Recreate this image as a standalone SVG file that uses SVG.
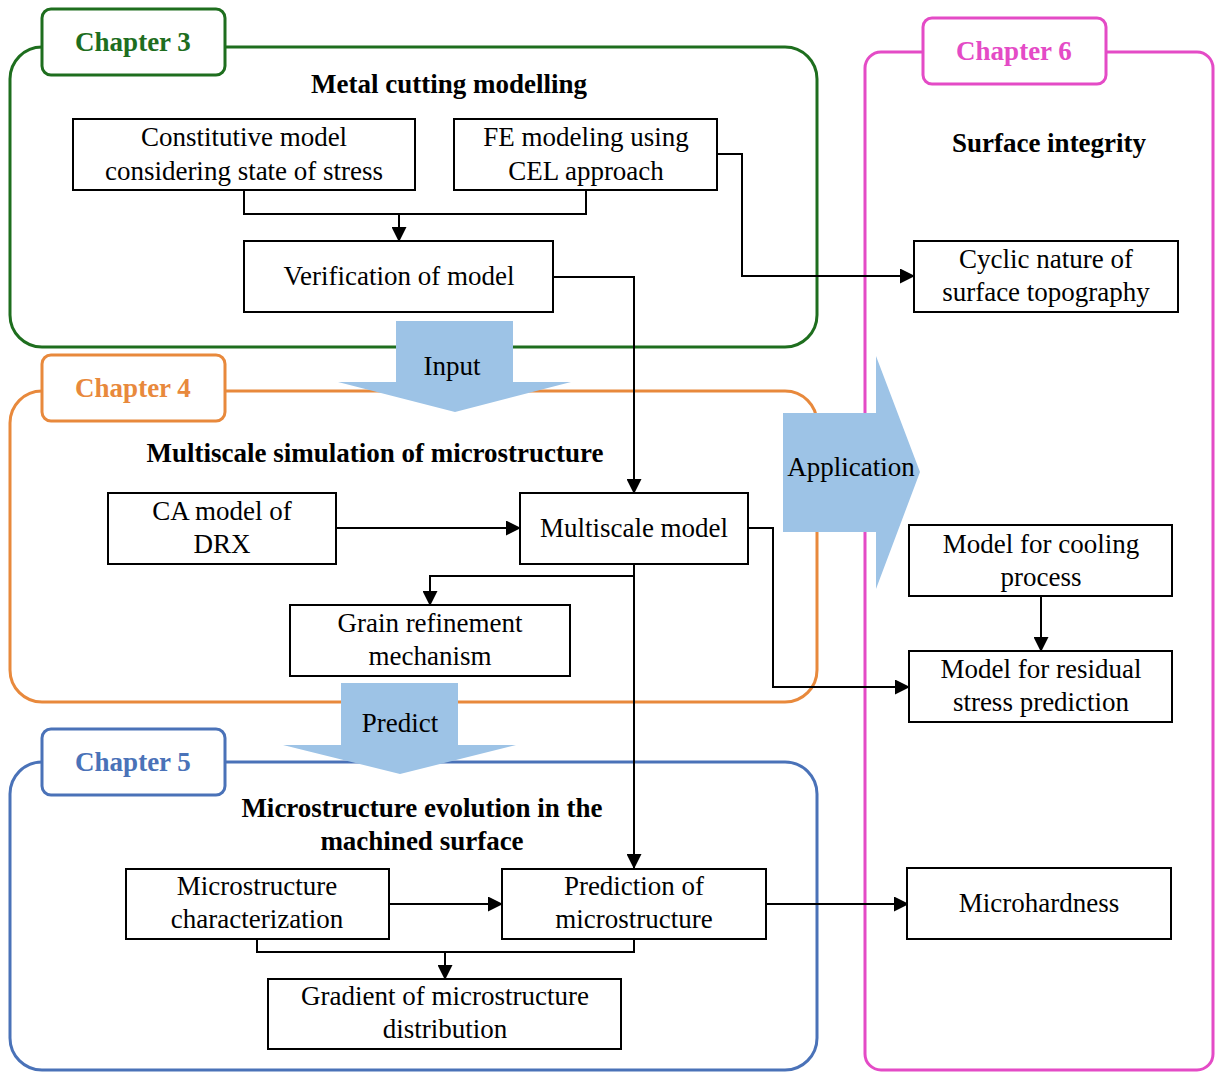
<svg xmlns="http://www.w3.org/2000/svg" width="1215" height="1072" viewBox="0 0 1215 1072">
<style>
text{font-family:"Liberation Serif","Times New Roman",serif;font-size:27px;fill:#000;text-anchor:middle}
.b{font-weight:bold}
.box{fill:#fff;stroke:#000;stroke-width:2}
.cont{fill:none;stroke-width:3}
.lab{fill:#fff;stroke-width:3}
.ln{fill:none;stroke:#000;stroke-width:2}
.big{fill:#9dc3e6}
</style>
<defs>
<marker id="ah" markerWidth="15" markerHeight="15" refX="14" refY="7.5" orient="auto" markerUnits="userSpaceOnUse">
<path d="M0,0 L15,7.5 L0,15 Z" fill="#000"/>
</marker>
</defs>
<rect width="1215" height="1072" fill="#fff"/>

<g id="ch3">
<rect class="cont" x="10" y="47" width="807" height="300" rx="32" stroke="#1e6e1e"/>
<rect class="lab" x="42" y="9" width="183" height="66" rx="9" stroke="#1e6e1e"/>
<text class="b" x="133" y="51" style="fill:#1e6e1e">Chapter 3</text>
<text class="b" x="449" y="93">Metal cutting modelling</text>
</g>
<g id="ch4">
<rect class="cont" x="10" y="391" width="807" height="311" rx="32" stroke="#e8893c"/>
<rect class="lab" x="42" y="355" width="183" height="66" rx="9" stroke="#e8893c"/>
<text class="b" x="133" y="397" style="fill:#e8893c">Chapter 4</text>
<text class="b" x="375" y="462">Multiscale simulation of microstructure</text>
</g>
<g id="ch5">
<rect class="cont" x="10" y="762" width="807" height="308" rx="32" stroke="#4a72b8"/>
<rect class="lab" x="42" y="729" width="183" height="66" rx="9" stroke="#4a72b8"/>
<text class="b" x="133" y="771" style="fill:#4a72b8">Chapter 5</text>
<text class="b" x="422" y="817">Microstructure evolution in the</text>
<text class="b" x="422" y="850">machined surface</text>
</g>
<g id="ch6">
<rect class="cont" x="865" y="52" width="348" height="1018" rx="16" stroke="#e44bc6"/>
<rect class="lab" x="923" y="18" width="183" height="66" rx="9" stroke="#e44bc6"/>
<text class="b" x="1014" y="60" style="fill:#e44bc6">Chapter 6</text>
<text class="b" x="1049" y="152">Surface integrity</text>
</g>

<g id="arrow-input">
<path class="big" d="M396,321 H513 V382 H571 L455,412 L338,382 H396 Z"/>
<text x="452" y="375">Input</text>
</g>
<g id="arrow-predict">
<path class="big" d="M341,683 H458 V745 H516 L400,774 L283,745 H341 Z"/>
<text x="400" y="732">Predict</text>
</g>
<g id="arrow-application">
<path class="big" d="M783,413 H876 V356 L920,472 L876,589 V532 H783 Z"/>
<text x="851" y="476">Application</text>
</g>

<g id="connectors">
<path class="ln" d="M244,190 V214 H586 V190"/>
<path class="ln" d="M399,214 V241" marker-end="url(#ah)"/>
<path class="ln" d="M553,277 H634 V493" marker-end="url(#ah)"/>
<path class="ln" d="M717,154 H742 V276 H914" marker-end="url(#ah)"/>
<path class="ln" d="M336,528 H520" marker-end="url(#ah)"/>
<path class="ln" d="M634,564 V868" marker-end="url(#ah)"/>
<path class="ln" d="M634,576 H430 V605" marker-end="url(#ah)"/>
<path class="ln" d="M748,528 H773 V687 H909" marker-end="url(#ah)"/>
<path class="ln" d="M389,904 H502" marker-end="url(#ah)"/>
<path class="ln" d="M257,939 V952 H634 V939"/>
<path class="ln" d="M445,952 V979" marker-end="url(#ah)"/>
<path class="ln" d="M766,904 H908" marker-end="url(#ah)"/>
<path class="ln" d="M1041,596 V651" marker-end="url(#ah)"/>
</g>

<g id="n-constitutive"><rect class="box" x="73" y="119" width="342" height="71"/><text x="244" y="146">Constitutive model</text><text x="244" y="180">considering state of stress</text></g>
<g id="n-fe"><rect class="box" x="454" y="119" width="263" height="71"/><text x="586" y="146">FE modeling using</text><text x="586" y="180">CEL approach</text></g>
<g id="n-verification"><rect class="box" x="244" y="241" width="309" height="71"/><text x="399" y="285">Verification of model</text></g>
<g id="n-ca"><rect class="box" x="108" y="493" width="228" height="71"/><text x="222" y="520">CA model of</text><text x="222" y="553">DRX</text></g>
<g id="n-multiscale"><rect class="box" x="520" y="493" width="228" height="71"/><text x="634" y="537">Multiscale model</text></g>
<g id="n-grain"><rect class="box" x="290" y="605" width="280" height="71"/><text x="430" y="632">Grain refinement</text><text x="430" y="665">mechanism</text></g>
<g id="n-characterization"><rect class="box" x="126" y="869" width="263" height="70"/><text x="257" y="895">Microstructure</text><text x="257" y="928">characterization</text></g>
<g id="n-prediction"><rect class="box" x="502" y="869" width="264" height="70"/><text x="634" y="895">Prediction of</text><text x="634" y="928">microstructure</text></g>
<g id="n-gradient"><rect class="box" x="268" y="979" width="353" height="70"/><text x="445" y="1005">Gradient of microstructure</text><text x="445" y="1038">distribution</text></g>
<g id="n-cyclic"><rect class="box" x="914" y="241" width="264" height="71"/><text x="1046" y="268">Cyclic nature of</text><text x="1046" y="301">surface topography</text></g>
<g id="n-cooling"><rect class="box" x="909" y="525" width="263" height="71"/><text x="1041" y="553">Model for cooling</text><text x="1041" y="586">process</text></g>
<g id="n-residual"><rect class="box" x="909" y="651" width="263" height="71"/><text x="1041" y="678">Model for residual</text><text x="1041" y="711">stress prediction</text></g>
<g id="n-microhardness"><rect class="box" x="907" y="868" width="264" height="71"/><text x="1039" y="912">Microhardness</text></g>
</svg>
